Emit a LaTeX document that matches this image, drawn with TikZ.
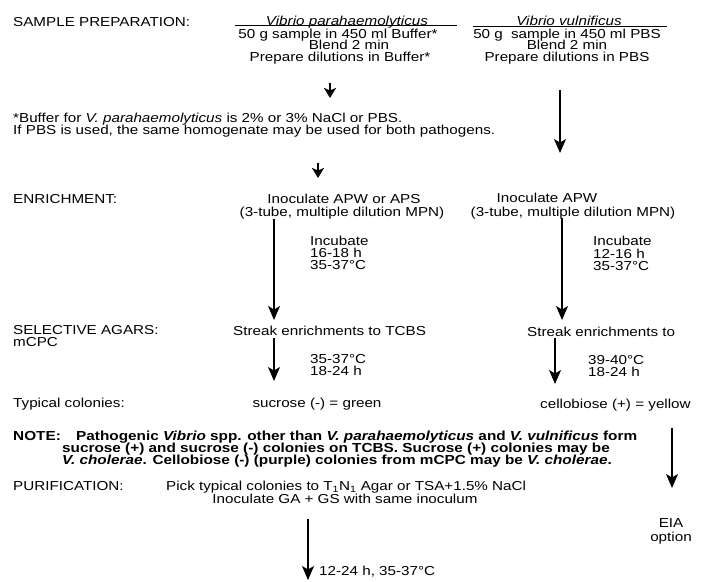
\documentclass[tikz,border=0pt]{standalone}
\usepackage{fontspec}
\setmainfont{Liberation Sans}[FakeStretch=1.17]
\usetikzlibrary{arrows.meta}
\begin{document}
\begin{tikzpicture}[x=1pt,y=-1pt,
  font=\fontsize{13}{13}\selectfont,
  txt/.style={anchor=base west,inner sep=0pt},
  ctxt/.style={anchor=base,inner sep=0pt},
  note/.style={txt,font=\fontsize{13.1}{13}\selectfont\bfseries},
  arr/.style={line width=1.2pt,-{Stealth[length=14pt,width=12pt,inset=3.5pt]}},
  stub/.style={line width=2pt,-{Stealth[length=10pt,width=12pt,inset=2.5pt]}},
  rule/.style={line width=1pt}]
\useasboundingbox (0,0) rectangle (719,581);

% ---- sample preparation ----
\node[txt] (samp) at (13,26) {SAMPLE PREPARATION:};
\node[ctxt] (vpt) at (347,25) {\textit{Vibrio parahaemolyticus}};
\node[ctxt] (vvt) at (569,25) {\textit{Vibrio vulnificus}};
\coordinate (vpu1) at (235,25.5); \coordinate (vpu2) at (457,25.5);
\coordinate (vvu1) at (473,26.5); \coordinate (vvu2) at (667,26.5);
\draw[rule] (vpu1) -- (vpu2);
\draw[rule] (vvu1) -- (vvu2);
\node[ctxt] (vp1) at (338,38) {50 g sample in 450 ml Buffer*};
\node[ctxt] (vp2) at (349,49.5) {Blend 2 min};
\node[ctxt] (vp3) at (340,61) {Prepare dilutions in Buffer*};
\node[ctxt] (vv1) at (567,38) {50 g\hspace{4pt} sample in 450 ml PBS};
\node[ctxt] (vv2) at (567,49.5) {Blend 2 min};
\node[ctxt] (vv3) at (567,61) {Prepare dilutions in PBS};

\node[txt] (fn1) at (13,122) {*Buffer for \textit{V. parahaemolyticus} is 2\% or 3\% NaCl or PBS.};
\node[txt] (fn2) at (13,134) {If PBS is used, the same homogenate may be used for both pathogens.};

% ---- enrichment ----
\node[txt] (enr) at (13,203) {ENRICHMENT:};
\node[ctxt] (inL1) at (344,203) {Inoculate APW or APS};
\node[ctxt] (inL2) at (342,216) {(3-tube, multiple dilution MPN)};
\node[ctxt] (inR1) at (547,202) {Inoculate APW};
\node[ctxt] (inR2) at (573,216) {(3-tube, multiple dilution MPN)};
\node[txt] (incL1) at (310,245) {Incubate};
\node[txt] (incL2) at (310,257) {16-18 h};
\node[txt] (incL3) at (310,269) {35-37°C};
\node[txt] (incR1) at (593,245) {Incubate};
\node[txt] (incR2) at (593,258) {12-16 h};
\node[txt] (incR3) at (593,270) {35-37°C};

% ---- selective agars ----
\node[txt] (sel1) at (13,334) {SELECTIVE AGARS:};
\node[txt] (sel2) at (13,346) {mCPC};
\node[txt] (strL) at (233,335) {Streak enrichments to TCBS};
\node[txt] (strR) at (527,336) {Streak enrichments to};
\node[txt] (tmpL1) at (310,363) {35-37°C};
\node[txt] (tmpL2) at (310,375) {18-24 h};
\node[txt] (tmpR1) at (588,364) {39-40°C};
\node[txt] (tmpR2) at (588,376) {18-24 h};

\node[txt] (typ) at (13,407) {Typical colonies:};
\node[ctxt] (suc) at (317,407) {sucrose (-) = green};
\node[txt] (cel) at (540,408) {cellobiose (+) = yellow};

% ---- note ----
\node[note] (noteh) at (13,440) {NOTE:};
\node[note] (note1) at (76,440) {Pathogenic \textit{Vibrio} spp. other than \textit{V. parahaemolyticus} and \textit{V. vulnificus} form};
\node[note] (note2) at (62,452) {sucrose (+) and sucrose (-) colonies on TCBS. Sucrose (+) colonies may be};
\node[note] (note3) at (62,464) {\textit{V. cholerae}. Cellobiose (-) (purple) colonies from mCPC may be \textit{V. cholerae}.};

% ---- purification ----
\node[txt] (pur) at (13,490) {PURIFICATION:};
\node[txt] (pick) at (166,490) {Pick typical colonies to T\textsubscript{1}N\textsubscript{1} Agar or TSA+1.5\% NaCl};
\node[ctxt] (gags) at (345,503) {Inoculate GA + GS with same inoculum};
\node[ctxt] (eia1) at (671,527) {EIA};
\node[ctxt] (eia2) at (671,541) {option};
\node[txt] (cond) at (319,575) {12-24 h, 35-37°C};

% ---- flow arrows ----
\coordinate (a1s) at (330,83);  \coordinate (a1e) at (330,98);
\coordinate (a2s) at (560,90);  \coordinate (a2e) at (560,153);
\coordinate (a3s) at (318,163); \coordinate (a3e) at (318,178);
\coordinate (a4s) at (274,219); \coordinate (a4e) at (274,320);
\coordinate (a5s) at (562,218); \coordinate (a5e) at (562,320);
\coordinate (a6s) at (274,338); \coordinate (a6e) at (274,381);
\coordinate (a7s) at (555,338); \coordinate (a7e) at (555,384);
\coordinate (a8s) at (672,428); \coordinate (a8e) at (672,488);
\coordinate (a9s) at (308,519); \coordinate (a9e) at (308,580);
\draw[stub] (a1s) -- (a1e);
\draw[arr] (a2s) -- (a2e);
\draw[stub] (a3s) -- (a3e);
\draw[arr] (a4s) -- (a4e);
\draw[arr] (a5s) -- (a5e);
\draw[arr] (a6s) -- (a6e);
\draw[arr] (a7s) -- (a7e);
\draw[arr] (a8s) -- (a8e);
\draw[arr] (a9s) -- (a9e);
\end{tikzpicture}
\end{document}
